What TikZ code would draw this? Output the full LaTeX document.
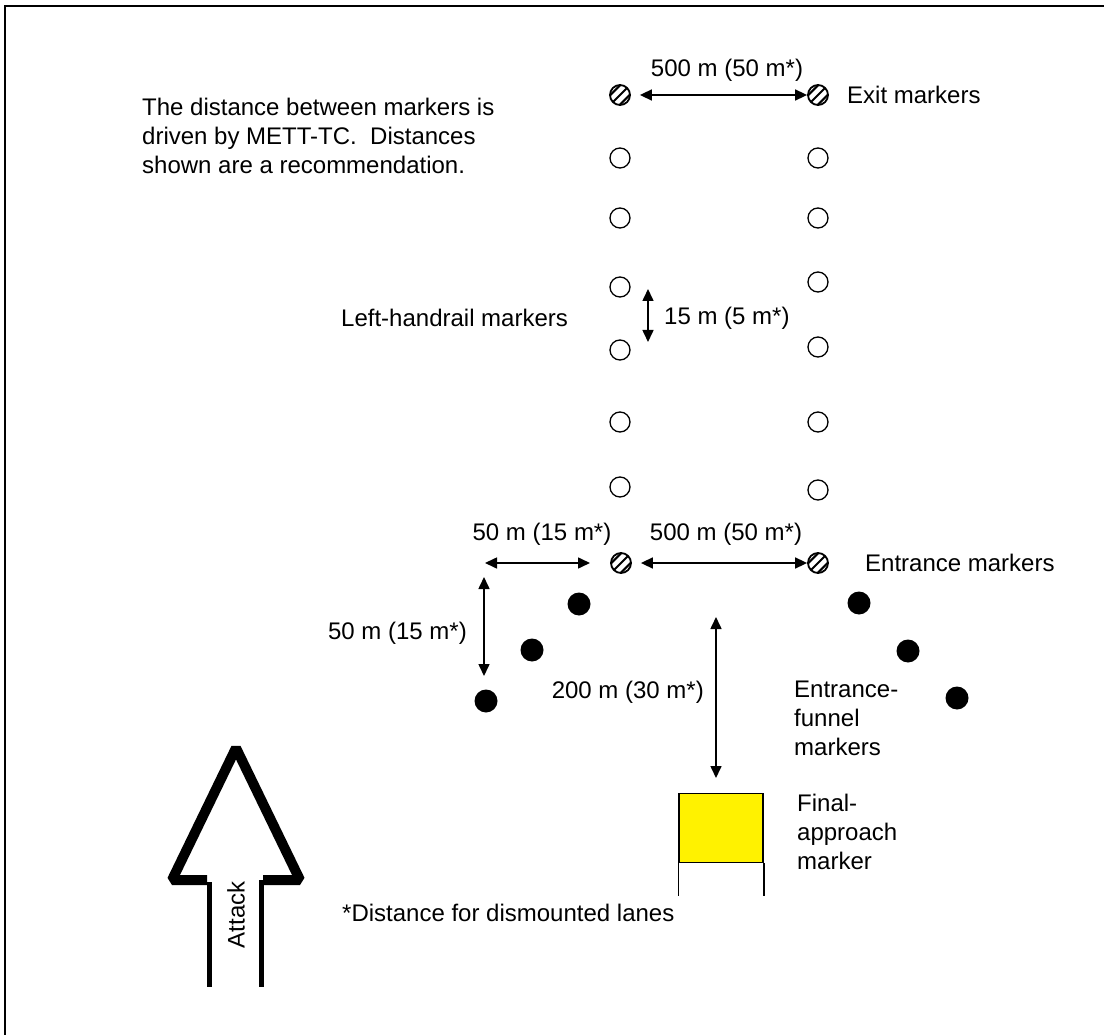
\documentclass[tikz,border=0pt]{standalone}
\usepackage{fontspec}
\setmainfont{Liberation Sans}
\usetikzlibrary{arrows.meta,calc}

\begin{document}
\begin{tikzpicture}[x=1pt, y=-1pt,
every edge/.style = {draw, {Triangle[length=12pt,width=11pt]}-{Triangle[length=12pt,width=11pt]}, line width=1.6pt, black},
      lbl/.style = {font=\fontsize{24}{29}\selectfont, inner sep=0pt, align=left},
     open/.style = {circle, draw, line width=1.3pt, minimum size=20pt, inner sep=0pt},
   funnel/.style = {circle, fill, minimum size=23pt, inner sep=0pt},
  hatched/.style = {open, line width=1.8pt,
                    path picture={
                      \draw[line width=2.1pt] ($(path picture bounding box.center)+(-17.8pt,-8.2pt)$) -- ++(26pt,26pt);
                      \draw[line width=2.1pt] ($(path picture bounding box.center)+(-13pt,-13pt)$) -- ++(26pt,26pt);
                      \draw[line width=2.1pt] ($(path picture bounding box.center)+(-8.2pt,-17.8pt)$) -- ++(26pt,26pt);
                    }}
                    ]
\useasboundingbox (0,0) rectangle (1104,1035);
\draw[line width=2.5pt] (5,1040) -- (5,6) -- (1110,6);

% exit and entrance markers
\node (ex-l) [hatched] at (620,95) {};
\node (ex-r) [hatched] at (818,95) {};
\node (en-l) [hatched] at (621,563) {};
\node (en-r) [hatched] at (818,563) {};

% left-handrail markers
\node (l1) [open] at (620,158) {};
\node (l2) [open] at (620,218) {};
\node (l3) [open] at (620,287) {};
\node (l4) [open] at (620,350) {};
\node (l5) [open] at (620,422) {};
\node (l6) [open] at (620,487) {};
\node (r1) [open] at (818,158) {};
\node (r2) [open] at (818,218) {};
\node (r3) [open] at (818,282) {};
\node (r4) [open] at (818,347) {};
\node (r5) [open] at (818,422) {};
\node (r6) [open] at (818,490) {};

% entrance-funnel markers
\node (fl1) [funnel] at (579,604) {};
\node (fl2) [funnel] at (532,650) {};
\node (fl3) [funnel] at (486,701) {};
\node (fr1) [funnel] at (859,603) {};
\node (fr2) [funnel] at (908,651) {};
\node (fr3) [funnel] at (957,698) {};

% final-approach marker
\node (fam) [draw, fill=yellow, line width=1.5pt, minimum width=84pt, minimum height=69pt, inner sep=0pt] at (721,828) {};
\draw[line width=1.5pt] (fam.south west) -- ++(0,33)
                        (fam.south east) -- ++(0,33);

% distances
\coordinate (hr-a) at (648,289);
\coordinate (hr-b) at (648,342);
\coordinate (fw-a) at (485,563);
\coordinate (fw-b) at (590,563);
\coordinate (fd-a) at (484,577);
\coordinate (fd-b) at (484,676);
\coordinate (ap-a) at (716,617);
\coordinate (ap-b) at (716,778);
\draw   (ex-l) edge [shorten <=9pt] (ex-r)
        (en-l) edge [shorten <=9pt] (en-r)
        (hr-a) edge (hr-b)
        (fw-a) edge (fw-b)
        (fd-a) edge (fd-b)
        (ap-a) edge (ap-b);

\node (exit-d)  [lbl] at (727,70)  {500 m (50 m*)};
\node (ent-d)   [lbl] at (726,534) {500 m (50 m*)};
\node (rail-d)  [lbl, anchor=west] at (664,318) {15 m (5 m*)};
\node (fw-d)    [lbl] at (542,534) {50 m (15 m*)};
\node (fd-d)    [lbl, anchor=east] at (467,633) {50 m (15 m*)};
\node (ap-d)    [lbl, anchor=east] at (704,692) {200 m (30 m*)};

% texts
\node (note)    [lbl, anchor=west] at (142,136) {The distance between markers is\\driven by METT-TC.\ \ Distances\\shown are a recommendation.};
\node (exit-t)  [lbl, anchor=west] at (847,95)  {Exit markers};
\node (rail-t)  [lbl, anchor=west] at (341,318) {Left-handrail markers};
\node (ent-t)   [lbl, anchor=west] at (865,563) {Entrance markers};
\node (fun-t)   [lbl, anchor=west] at (794,718) {Entrance-\\funnel\\markers};
\node (fam-t)   [lbl, anchor=west] at (797,832) {Final-\\approach\\marker};
\node (dism-t)  [lbl, anchor=west] at (342,913) {*Distance for dismounted lanes};

% attack arrow
\draw[line width=10pt, line join=bevel] (207,880) -- (172,880) -- (236,748) -- (300,880) -- (263,880);
\draw[line width=5pt] (209,882) -- (209,987)
                      (261,880) -- (261,987);
\node (atk) [lbl, rotate=90] at (236,915) {Attack};
\end{tikzpicture}
\end{document}
